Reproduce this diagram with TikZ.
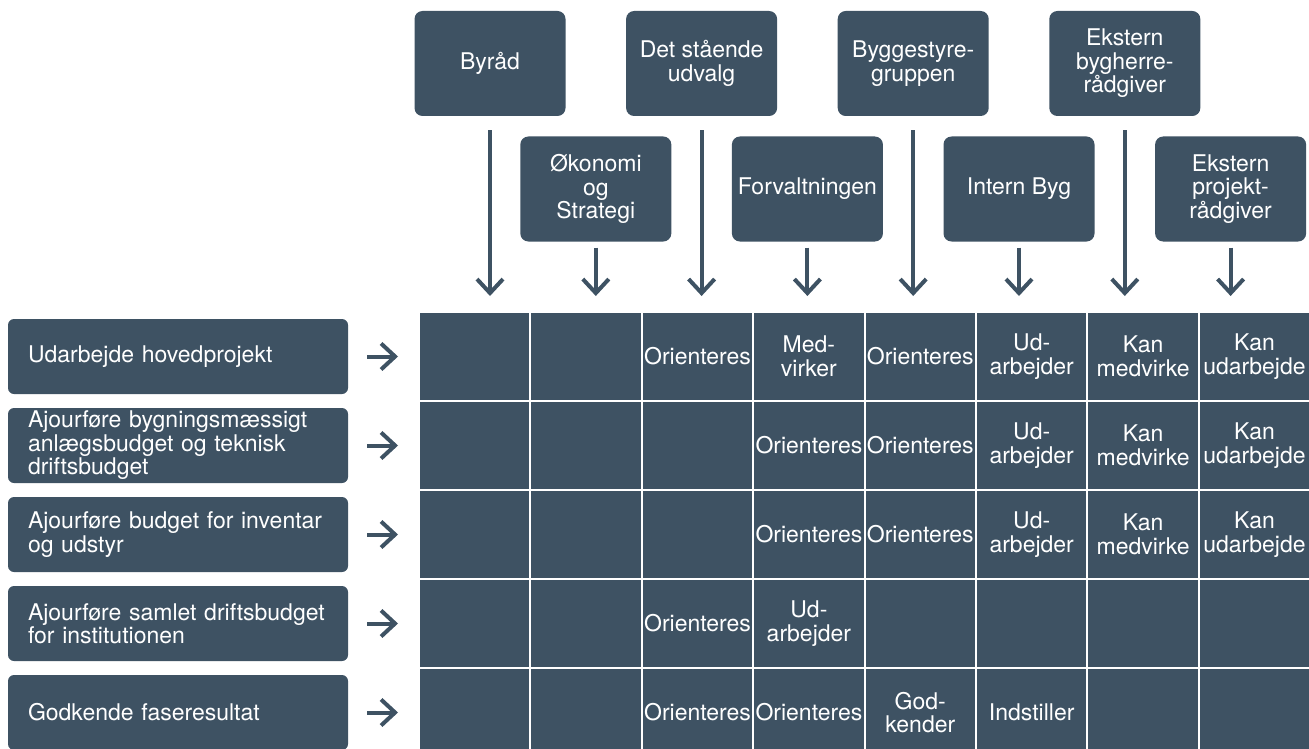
\documentclass[tikz,border=0pt]{standalone}
\usepackage{fontspec}
\setmainfont{TeX Gyre Heros}
\usetikzlibrary{arrows.meta}
\definecolor{slate}{HTML}{3E5263}

\begin{document}
\begin{tikzpicture}[x=1pt, y=-1pt,
  txt/.style={text=white, font=\fontsize{23}{23.5}\selectfont, inner sep=0pt},
  box/.style={txt, fill=slate, rounded corners=8pt, minimum width=151pt, minimum height=105pt, align=center},
  task/.style={txt, fill=slate, rounded corners=6pt, minimum width=340pt, minimum height=75pt, text width=300pt, align=left},
  cell/.style={fill=slate, draw=white, line width=2pt, minimum width=111.4pt, minimum height=89pt, inner sep=0pt},
  arr/.style={draw=slate, line width=4pt, -{Straight Barb[length=14pt, width=26pt, sharp]}}]
\path[use as bounding box, clip] (0,0) rectangle (1309,749);

% roles
\node[box] (byraad) at (490,63.5) {Byråd};
\node[box] (okonomi) at (595.8,189) {Økonomi\\og\\Strategi};
\node[box] (staaende) at (701.6,63.5) {Det stående\\udvalg};
\node[box] (forvalt) at (807.4,189) {Forvaltningen};
\node[box] (byggestyre) at (913.2,63.5) {Byggestyre-\\gruppen};
\node[box] (internbyg) at (1019,189) {Intern Byg};
\node[box] (bygherre) at (1124.8,63.5) {Ekstern\\bygherre-\\rådgiver};
\node[box] (projekt) at (1230.6,189) {Ekstern\\projekt-\\rådgiver};

\coordinate (stop) at (0,296);
\foreach \b in {byraad, staaende, byggestyre, bygherre} \draw[arr, shorten <=14pt] (\b) -- (\b |- stop);
\foreach \b in {okonomi, forvalt, internbyg, projekt} \draw[arr, shorten <=6pt] (\b) -- (\b |- stop);

% tasks
\node[task] (t1) at (178,356.5) {Udarbejde hovedprojekt};
\node[task] (t2) at (178,445.5) {Ajourføre bygningsmæssigt\\anlægsbudget og teknisk\\driftsbudget};
\node[task] (t3) at (178,534.5) {Ajourføre budget for inventar\\og udstyr};
\node[task] (t4) at (178,623.5) {Ajourføre samlet driftsbudget\\for institutionen};
\node[task] (t5) at (178,712.5) {Godkende faseresultat};

% table
\foreach \r in {1,...,5} \foreach \c in {1,...,8}
  \node[cell] (c-\r-\c) at ({419+111.4*(\c-0.5)}, {312+89*(\r-0.5)}) {};

\foreach \r/\c/\t in {1/3/Orienteres, 1/4/{Med-\\virker}, 1/5/Orienteres, 1/6/{Ud-\\arbejder}, 1/7/{Kan\\medvirke}, 1/8/{Kan\\udarbejde},
    2/4/Orienteres, 2/5/Orienteres, 2/6/{Ud-\\arbejder}, 2/7/{Kan\\medvirke}, 2/8/{Kan\\udarbejde},
    3/4/Orienteres, 3/5/Orienteres, 3/6/{Ud-\\arbejder}, 3/7/{Kan\\medvirke}, 3/8/{Kan\\udarbejde},
    4/3/Orienteres, 4/4/{Ud-\\arbejder},
    5/3/Orienteres, 5/4/Orienteres, 5/5/{God-\\kender}, 5/6/Indstiller}
  \node[txt, align=center] at (c-\r-\c) {\t};

\foreach \r in {1,...,5} \draw[arr, shorten <=19pt, shorten >=20pt] (t\r) -- (c-\r-1);

\end{tikzpicture}
\end{document}
